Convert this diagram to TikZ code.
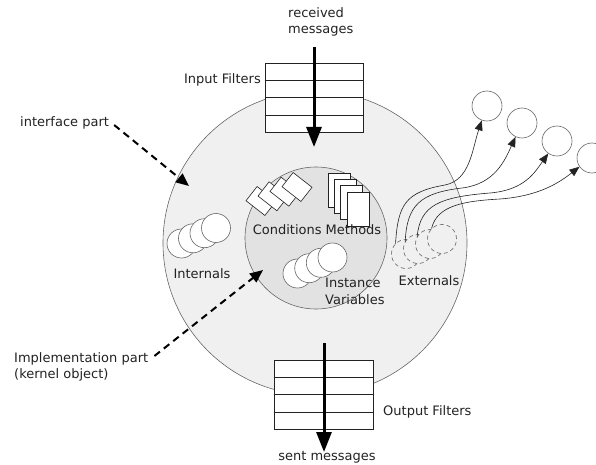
\documentclass[tikz,border=0pt]{standalone}
\usepackage{fontspec}
\setmainfont{DejaVu Sans}
\usetikzlibrary{arrows.meta,calc}
\definecolor{ringfill}{HTML}{F0F0F0}
\definecolor{kernfill}{HTML}{E2E2E2}
\definecolor{edge}{HTML}{666666}
\definecolor{ink}{HTML}{222222}

\begin{document}
\begin{tikzpicture}[x=1pt,y=-1pt,
  lbl/.style={font=\fontsize{13}{16.5}\selectfont, text=ink, inner sep=0pt},
  shell/.style={circle, draw=edge, line width=0.6pt, inner sep=0pt},
  ball/.style={circle, draw=edge, fill=white, line width=0.6pt, minimum size=29pt, inner sep=0pt},
  ghost/.style={circle, draw=edge, fill=ringfill, line width=0.6pt, dash pattern=on 4pt off 3pt, minimum size=29pt, inner sep=0pt},
  target/.style={circle, draw=edge, fill=white, line width=0.6pt, minimum size=30pt, inner sep=0pt},
  card/.style={draw=ink, fill=white, line width=0.6pt, minimum width=22pt, minimum height=34pt, inner sep=0pt},
  cond/.style={draw=ink, fill=white, line width=0.6pt, minimum width=24pt, minimum height=18pt, inner sep=0pt, rotate=-38},
  filterbox/.style={draw=ink, fill=white, line width=0.6pt, minimum width=98pt, minimum height=69pt, inner sep=0pt},
  msg/.style={draw=black, line width=3pt, -{Triangle[length=20pt,width=15pt]}},
  pointer/.style={draw=black, line width=2pt, dash pattern=on 7pt off 5pt, -{Triangle[length=13pt,width=11pt]}},
  link/.style={draw=ink, line width=0.6pt, -{Triangle[length=10pt,width=8pt]}}
]
\useasboundingbox (0,0) rectangle (596,465);

% object shell and kernel
\node[shell, fill=ringfill, minimum size=304pt] (outer) at (315,243) {};
\node[shell, fill=kernfill, minimum size=142pt] (inner) at (316,238) {};

% internals
\node[ball] (i1) at (181.5,243.5) {};
\node[ball] (i2) at (193,238.3) {};
\node[ball] (i3) at (204.5,233.2) {};
\node[ball] (i4) at (216,228) {};

% conditions
\node[cond] (c1) at (261,201) {};
\node[cond] (c2) at (273,196.3) {};
\node[cond] (c3) at (285,191.7) {};
\node[cond] (c4) at (297,187) {};

% methods
\node[card] (m1) at (339,190) {};
\node[card] (m2) at (345.3,196.3) {};
\node[card] (m3) at (351.7,202.7) {};
\node[card] (m4) at (358,209) {};

% instance variables
\node[ball] (v1) at (297.5,273.5) {};
\node[ball] (v2) at (309.2,268.2) {};
\node[ball] (v3) at (320.8,262.8) {};
\node[ball] (v4) at (332.5,257.5) {};

% externals
\node[ghost] (e1) at (406,254) {};
\node[ghost] (e2) at (418,249) {};
\node[ghost] (e3) at (430,244) {};
\node[ghost] (e4) at (442,239) {};

% remote objects
\node[target] (t1) at (487,106) {};
\node[target] (t2) at (522,123) {};
\node[target] (t3) at (557,141) {};
\node[target] (t4) at (592,158) {};

% references to remote objects
\draw[link] (e1.135) .. controls (398,205) and (405,192) .. (445,185)
            .. controls (470,180) and (472,150) .. (t1.250);
\draw[link] (e2.150) .. controls (407,205) and (420,193) .. (462,188)
            .. controls (495,184) and (505,160) .. (t2.245);
\draw[link] (e3.150) .. controls (420,205) and (440,197) .. (490,193)
            .. controls (525,190) and (535,172) .. (t3.235);
\draw[link] (e4.135) .. controls (437,205) and (465,201) .. (500,199)
            .. controls (540,196) and (560,182) .. (t4.215);

% filters
\node[filterbox] (inf) at (314,97.5) {};
\node[filterbox, minimum width=99pt] (outf) at (323.5,394.5) {};
\foreach \f in {0.25,0.5,0.75} {
  \draw[ink, line width=0.6pt] ($(inf.north west)!\f!(inf.south west)$) -- ($(inf.north east)!\f!(inf.south east)$);
  \draw[ink, line width=0.6pt] ($(outf.north west)!\f!(outf.south west)$) -- ($(outf.north east)!\f!(outf.south east)$);
}

% message flow
\coordinate (inA) at (314,47);
\coordinate (inB) at (314,147);
\coordinate (outA) at (324,343);
\coordinate (outB) at (324,452);
\draw[msg] (inA) -- (inB);
\draw[msg] (outA) -- (outB);

% labels
\node[lbl, align=left, anchor=north west] (recv) at (288,7) {received\\messages};
\node[lbl, anchor=east] (infl) at (261,80) {Input Filters};
\node[lbl, anchor=west] (ifc) at (20,123) {interface part};
\node[lbl] (intl) at (202,274) {Internals};
\node[lbl] (cm) at (317,230) {Conditions Methods};
\node[lbl, align=left, anchor=north west] (iv) at (325,278) {Instance\\Variables};
\node[lbl] (extl) at (429,281) {Externals};
\node[lbl, align=left, anchor=north west] (impl) at (14,352) {Implementation part\\(kernel object)};
\node[lbl, anchor=west] (outl) at (383,412) {Output Filters};
\node[lbl] (sent) at (327,457) {sent messages};

% pointers to the two parts
\coordinate (ifctip) at (189,186);
\coordinate (impltip) at (263,270);
\draw[pointer] ([shift={(5,2)}]ifc.east) -- (ifctip);
\draw[pointer] ([shift={(6,4)}]impl.north east) -- (impltip);
\end{tikzpicture}
\end{document}
